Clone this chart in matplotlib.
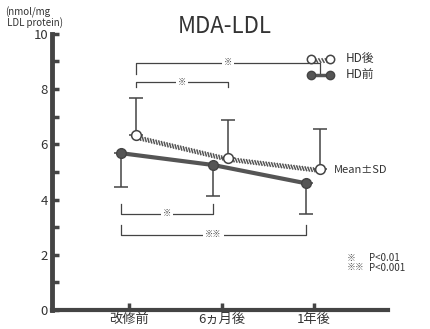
import matplotlib.pyplot as plt
import matplotlib.patheffects as pe

plt.rcParams['font.family'] = ['Noto Sans CJK JP', 'DejaVu Sans']

categories = ['改修前', '6ヵ月後', '1年後']
after_mean = [6.32, 5.52, 5.11]   # HD後
after_sd = [1.35, 1.36, 1.45]
before_mean = [5.68, 5.25, 4.59]  # HD前
before_sd = [1.21, 1.11, 1.12]

x = [0, 1, 2]
xa = [i + 0.07 for i in x]
xb = [i - 0.09 for i in x]

gray = '#444444'
hatch = [pe.withTickedStroke(angle=-60, spacing=2.0, length=1.4, linewidth=1.1)]

fig = plt.figure(figsize=[4.31, 3.29], dpi=100)
ax = fig.add_axes([0.121, 0.058, 0.779, 0.839])

# HD後 hatched line with upper SD bars
ax.plot(xa, after_mean, color='#555555', lw=0.01, zorder=2, path_effects=hatch)
ax.errorbar(xa, after_mean, yerr=[[0, 0, 0], after_sd], fmt='none', ecolor=gray,
            elinewidth=1.1, capsize=5, capthick=1.1, zorder=1)
ax.plot(xa, after_mean, 'o', ms=7, mfc='white', mec=gray, mew=1.1, zorder=4)

# HD前 solid line with lower SD bars
ax.errorbar(xb, before_mean, yerr=[before_sd, [0, 0, 0]], fmt='none', ecolor=gray,
            elinewidth=1.1, capsize=5, capthick=1.1, zorder=1)
ax.plot(xb, before_mean, '-o', color='#555555', lw=3, ms=7, mfc='#555555', mec=gray, zorder=3)

# significance brackets
def bracket(x0, x1, y, h, label):
    ax.plot([x0, x0, x1, x1], [y - h, y, y, y - h], color=gray, lw=0.9)
    ax.text((x0 + x1) / 2, y, label, ha='center', va='center', fontsize=6,
            color=gray, bbox=dict(fc='white', ec='none', pad=1.5))

bracket(xa[0], xa[2], 8.95, 0.4, '※')
bracket(xa[0], xa[1], 8.25, 0.18, '※')
bracket(xb[0], xb[1], 3.48, -0.37, '※')
bracket(xb[0], xb[2], 2.72, -0.37, '※※')

ax.set_xlim(-0.832, 2.8)
ax.set_ylim(0, 10)
ax.set_xticks(x)
ax.set_xticklabels(categories)
ax.set_yticks([0, 2, 4, 6, 8, 10])
ax.set_yticks([1, 3, 5, 7, 9], minor=True)
ax.tick_params(axis='y', direction='in', length=5, width=2.5, color=gray, labelsize=9.5,
               pad=3, labelcolor='#333333')
ax.tick_params(axis='y', which='minor', direction='in', length=5, width=2.5, color=gray)
ax.tick_params(axis='x', direction='in', length=5, width=2.5, color=gray, labelsize=9.5,
               pad=2, labelcolor='#333333')
for s in ['top', 'right']:
    ax.spines[s].set_visible(False)
ax.spines['left'].set_linewidth(3.5)
ax.spines['bottom'].set_linewidth(3)
ax.spines['left'].set_color(gray)
ax.spines['bottom'].set_color(gray)

fig.text(0.522, 0.918, 'MDA-LDL', ha='center', va='center', fontsize=16, color='#333333')
fig.text(0.012, 0.947, '(nmol/mg\n LDL protein)', ha='left', va='center', fontsize=7,
         color='#333333', linespacing=0.9)

# legend drawn by hand in axes coordinates
t = ax.transAxes
lx = [(311 - 52) / 336, (330 - 52) / 336]
ly1 = (310 - 59) / 276
ly2 = (310 - 75) / 276
ax.plot(lx, [ly1, ly1], transform=t, color='#555555', lw=0.01, clip_on=False, path_effects=hatch)
ax.plot(lx, [ly1, ly1], 'o', transform=t, ms=6, mfc='white', mec=gray, mew=1.1, clip_on=False)
ax.plot(lx, [ly2, ly2], '-o', transform=t, color='#555555', lw=2.5, ms=6, mfc='#555555',
        mec=gray, clip_on=False)
ax.text((346 - 52) / 336, ly1, 'HD後', transform=t, ha='left', va='center', fontsize=8.5,
        color='#333333')
ax.text((346 - 52) / 336, ly2, 'HD前', transform=t, ha='left', va='center', fontsize=8.5,
        color='#333333')

fig.text(0.775, 0.484, 'Mean±SD', ha='left', va='center', fontsize=8, color='#333333')
fig.text(0.805, 0.2, '※\n※※', ha='left', va='center', fontsize=6.5, color='#555555',
         linespacing=0.95)
fig.text(0.857, 0.2, 'P<0.01\nP<0.001', ha='left', va='center', fontsize=7,
         color='#333333', linespacing=0.95)

fig.savefig('out.png', dpi=100)
